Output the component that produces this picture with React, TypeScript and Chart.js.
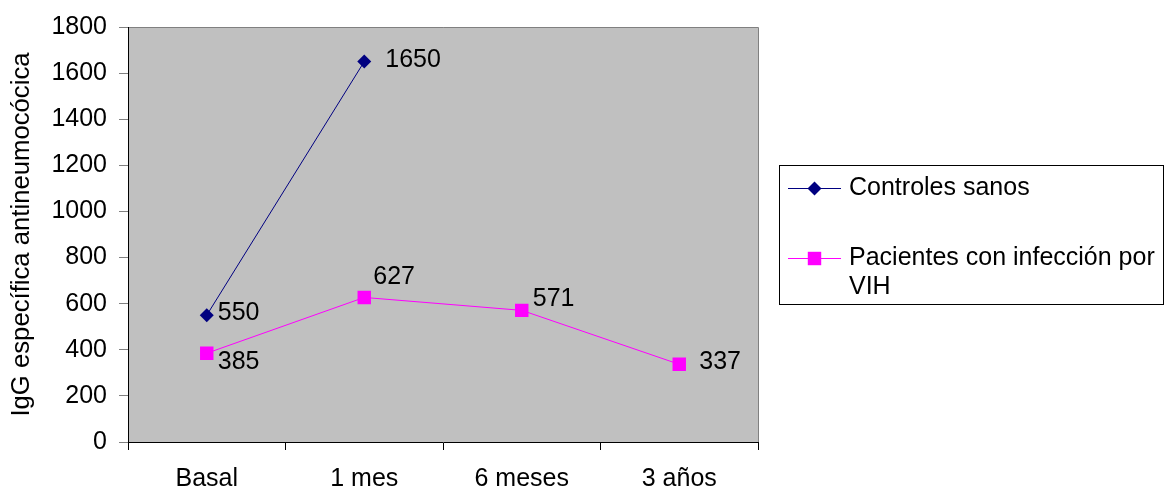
import React, { useEffect, useRef } from "react";
import { Chart, registerables } from "chart.js";

Chart.register(...registerables);

// Categories and series
const categories = ["Basal", "1 mes", "6 meses", "3 años"];
const controlesSanos = [550, 1650, null, null];
const pacientesVIH = [385, 627, 571, 337];
const seriesNames = ["Controles sanos", "Pacientes con infección por VIH"];
const yTitle = "IgG específica antineumocócica";
const yMin = 0;
const yMax = 1800;
const yStep = 200;

const FONT = "Arial, 'Liberation Sans', sans-serif";
const FONT_SIZE = 25;
const TITLE_SIZE = 25.7;

// Label placement relative to each point (dx, dy in px)
const labelOffsets: number[][][] = [
  [[11, -2], [21, -1]],
  [[11, 9], [9, -20], [11, -11], [20, -2]],
];

const plotBackground = {
  id: "plotBackground",
  beforeDraw(chart: any) {
    const { ctx, chartArea: a } = chart;
    ctx.save();
    ctx.fillStyle = "#C0C0C0";
    ctx.fillRect(a.left, a.top, a.right - a.left, a.bottom - a.top);
    ctx.strokeStyle = "#808080";
    ctx.lineWidth = 1;
    ctx.beginPath();
    ctx.moveTo(a.left, a.top + 0.5);
    ctx.lineTo(a.right + 0.5, a.top + 0.5);
    ctx.lineTo(a.right + 0.5, a.bottom);
    ctx.stroke();
    ctx.restore();
  },
};

const valueLabels = {
  id: "valueLabels",
  afterDatasetsDraw(chart: any) {
    const { ctx } = chart;
    ctx.save();
    ctx.font = `${FONT_SIZE}px ${FONT}`;
    ctx.fillStyle = "#000";
    ctx.textAlign = "left";
    ctx.textBaseline = "middle";
    chart.data.datasets.forEach((ds: any, di: number) => {
      const meta = chart.getDatasetMeta(di);
      meta.data.forEach((pt: any, i: number) => {
        const v = ds.data[i];
        if (v === null || v === undefined) return;
        const off = (labelOffsets[di] && labelOffsets[di][i]) || [10, 0];
        ctx.fillText(String(v), pt.x + off[0], pt.y + off[1]);
      });
    });
    ctx.restore();
  },
};

function drawMarker(ctx: CanvasRenderingContext2D, style: string, x: number, y: number, r: number, color: string) {
  ctx.fillStyle = color;
  ctx.beginPath();
  if (style === "rectRot") {
    ctx.moveTo(x - r, y);
    ctx.lineTo(x, y - r);
    ctx.lineTo(x + r, y);
    ctx.lineTo(x, y + r);
    ctx.closePath();
  } else {
    const h = r * Math.SQRT1_2;
    ctx.rect(x - h, y - h, 2 * h, 2 * h);
  }
  ctx.fill();
}

const boxedLegend = {
  id: "boxedLegend",
  afterDraw(chart: any) {
    const { ctx } = chart;
    const box = { x: 779.5, y: 165.5, w: 384, h: 139 };
    const rows = [188, 258];
    const lineH = 29;
    const textX = 849;
    const maxW = 318;
    ctx.save();
    ctx.strokeStyle = "#000";
    ctx.lineWidth = 1;
    ctx.strokeRect(box.x, box.y, box.w, box.h);
    ctx.font = `${FONT_SIZE}px ${FONT}`;
    ctx.textAlign = "left";
    ctx.textBaseline = "middle";
    chart.data.datasets.forEach((ds: any, di: number) => {
      const y = rows[di];
      ctx.strokeStyle = ds.borderColor;
      ctx.lineWidth = 1;
      ctx.beginPath();
      ctx.moveTo(788, y + 0.5);
      ctx.lineTo(841, y + 0.5);
      ctx.stroke();
      drawMarker(ctx, ds.pointStyle, 814.5, y + 0.5, ds.pointRadius, ds.pointBackgroundColor);
      // wrap text to the box width
      const words = String(ds.label).split(" ");
      const lines: string[] = [];
      let cur = "";
      words.forEach((w) => {
        const t = cur ? cur + " " + w : w;
        if (ctx.measureText(t).width > maxW && cur) {
          lines.push(cur);
          cur = w;
        } else cur = t;
      });
      if (cur) lines.push(cur);
      ctx.fillStyle = "#000";
      lines.forEach((l, li) => ctx.fillText(l, textX, y + li * lineH));
    });
    ctx.restore();
  },
};

export default function App() {
  const ref = useRef<HTMLCanvasElement>(null);

  useEffect(() => {
    document.body.style.margin = "0";
    const canvas = ref.current;
    if (!canvas) return;
    const chart = new Chart(canvas, {
      type: "line",
      data: {
        labels: categories,
        datasets: [
          {
            label: seriesNames[0],
            data: controlesSanos,
            borderColor: "#000080",
            backgroundColor: "#000080",
            pointBackgroundColor: "#000080",
            pointBorderColor: "#000080",
            pointStyle: "rectRot",
            pointRadius: 7,
            pointBorderWidth: 0,
            borderWidth: 1,
            tension: 0,
          },
          {
            label: seriesNames[1],
            data: pacientesVIH,
            borderColor: "#FF00FF",
            backgroundColor: "#FF00FF",
            pointBackgroundColor: "#FF00FF",
            pointBorderColor: "#FF00FF",
            pointStyle: "rect",
            pointRadius: 9.5,
            pointBorderWidth: 0,
            borderWidth: 1,
            tension: 0,
          },
        ],
      },
      options: {
        responsive: false,
        animation: false,
        devicePixelRatio: 1,
        layout: { padding: { left: 0, top: 26, right: 414, bottom: 0 } },
        plugins: {
          legend: { display: false },
          tooltip: { enabled: false },
        },
        scales: {
          x: {
            type: "category",
            offset: true,
            grid: {
              offset: true,
              drawOnChartArea: false,
              drawTicks: true,
              tickLength: 8,
              color: "#000",
            },
            border: { color: "#000", width: 1 },
            ticks: {
              color: "#000",
              padding: 14,
              maxRotation: 0,
              font: { family: FONT, size: FONT_SIZE },
            },
            afterFit(scale: any) {
              scale.height = 50;
            },
          },
          y: {
            min: yMin,
            max: yMax,
            grid: {
              drawOnChartArea: false,
              drawTicks: true,
              tickLength: 9,
              color: "#808080",
            },
            border: { color: "#000", width: 1 },
            ticks: {
              stepSize: yStep,
              color: "#000",
              padding: 12,
              font: { family: FONT, size: FONT_SIZE },
              callback: (v: any) => String(v),
            },
            title: {
              display: true,
              text: yTitle,
              color: "#000",
              padding: { top: 6, bottom: 0 },
              font: { family: FONT, size: TITLE_SIZE },
            },
            afterFit(scale: any) {
              scale.width = 128;
            },
          },
        },
      },
      plugins: [plotBackground, valueLabels, boxedLegend],
    } as any);
    return () => chart.destroy();
  }, []);

  return (
    <div style={{ width: 1172, height: 492, background: "#fff" }}>
      <canvas ref={ref} width={1172} height={492} style={{ display: "block" }} />
    </div>
  );
}
